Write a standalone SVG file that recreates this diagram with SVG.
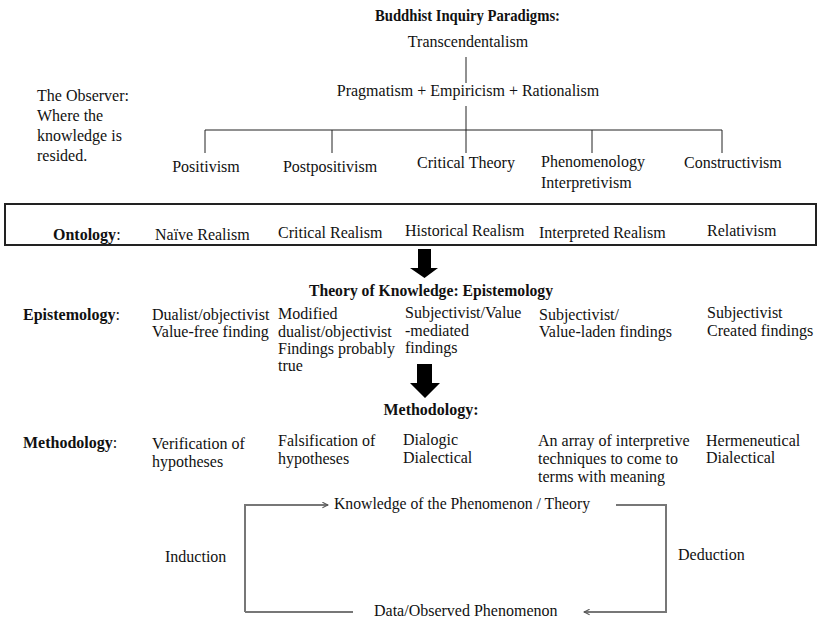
<svg xmlns="http://www.w3.org/2000/svg" width="818" height="619" viewBox="0 0 818 619">
<style>
text{font-family:'Liberation Serif','DejaVu Serif','Noto Serif',Times,serif;font-size:16px;fill:#111}
.b{font-weight:bold}
.m{text-anchor:middle}
.ln{stroke:#222;stroke-width:1;fill:none}
.cy{stroke:#777;stroke-width:2;fill:none}
</style>
<defs>
<marker id="oa" viewBox="0 0 10 10" refX="9" refY="5" markerWidth="7" markerHeight="7" markerUnits="userSpaceOnUse" orient="auto">
<path d="M1,1 L9,5 L1,9" fill="none" stroke="#555" stroke-width="1.5"/>
</marker>
</defs>
<rect width="818" height="619" fill="#fff"/>

<g id="connectors">
<line class="ln" x1="466" y1="57" x2="466" y2="83"/>
<line class="ln" x1="466" y1="106" x2="466" y2="153"/>
<line class="ln" x1="205" y1="130" x2="722" y2="130"/>
<line class="ln" x1="205" y1="130" x2="205" y2="153"/>
<line class="ln" x1="332" y1="130" x2="332" y2="153"/>
<line class="ln" x1="592" y1="130" x2="592" y2="153"/>
<line class="ln" x1="722" y1="130" x2="722" y2="153"/>
<path d="M418,249 H431 V268 H438 L424.5,278 L410,268 H418 Z" fill="#000"/>
<path d="M417,364 H432 V383 H440 L425,398 L410,383 H417 Z" fill="#000"/>
<path class="cy" d="M245,612 V505 H328" marker-end="url(#oa)"/>
<path class="cy" d="M616,505 H666 V612 H584" marker-end="url(#oa)"/>
<line class="cy" x1="245" y1="612" x2="353" y2="612"/>
</g>

<g id="title"><text class="b" x="375" y="21" textLength="185" lengthAdjust="spacingAndGlyphs">Buddhist Inquiry Paradigms:</text></g>
<g id="transcendentalism"><text class="m" x="468" y="47">Transcendentalism</text></g>
<g id="pragmatism"><text class="m" x="468" y="96">Pragmatism + Empiricism + Rationalism</text></g>
<g id="observer">
<text x="37" y="101">The Observer:</text>
<text x="37" y="121">Where the</text>
<text x="37" y="141">knowledge is</text>
<text x="37" y="161">resided.</text>
</g>
<g id="positivism"><text class="m" x="206" y="172">Positivism</text></g>
<g id="postpositivism"><text class="m" x="330" y="172">Postpositivism</text></g>
<g id="critical-theory"><text class="m" x="466" y="168">Critical Theory</text></g>
<g id="phenomenology">
<text x="541" y="167">Phenomenology</text>
<text x="541" y="188">Interpretivism</text>
</g>
<g id="constructivism"><text x="684" y="168">Constructivism</text></g>

<g id="ontology">
<rect x="5" y="204" width="811" height="41" fill="none" stroke="#222" stroke-width="2"/>
<text x="53" y="240"><tspan class="b">Ontology</tspan>:</text>
<text x="155" y="240">Naïve Realism</text>
<text x="278" y="238">Critical Realism</text>
<text x="405" y="236">Historical Realism</text>
<text x="539" y="238">Interpreted Realism</text>
<text x="707" y="236">Relativism</text>
</g>

<g id="epistemology-heading"><text class="b" x="309" y="296" textLength="244" lengthAdjust="spacingAndGlyphs">Theory of Knowledge: Epistemology</text></g>
<g id="epistemology">
<text x="23" y="320"><tspan class="b">Epistemology</tspan>:</text>
<text x="152" y="320">Dualist/objectivist</text>
<text x="152" y="337">Value-free finding</text>
<text x="278" y="319">Modified</text>
<text x="278" y="337">dualist/objectivist</text>
<text x="278" y="354">Findings probably</text>
<text x="278" y="371">true</text>
<text x="405" y="318">Subjectivist/Value</text>
<text x="405" y="336">-mediated</text>
<text x="405" y="353">findings</text>
<text x="539" y="320">Subjectivist/</text>
<text x="539" y="337">Value-laden findings</text>
<text x="707" y="318">Subjectivist</text>
<text x="707" y="336">Created findings</text>
</g>

<g id="methodology-heading"><text class="b m" x="431" y="415">Methodology:</text></g>
<g id="methodology">
<text x="23" y="448"><tspan class="b">Methodology</tspan>:</text>
<text x="152" y="449">Verification of</text>
<text x="152" y="467">hypotheses</text>
<text x="278" y="446">Falsification of</text>
<text x="278" y="464">hypotheses</text>
<text x="403" y="445">Dialogic</text>
<text x="403" y="463">Dialectical</text>
<text x="538" y="446">An array of interpretive</text>
<text x="538" y="464">techniques to come to</text>
<text x="538" y="482">terms with meaning</text>
<text x="706" y="446">Hermeneutical</text>
<text x="706" y="463">Dialectical</text>
</g>

<g id="knowledge"><text x="334" y="509" textLength="256" lengthAdjust="spacingAndGlyphs">Knowledge of the Phenomenon / Theory</text></g>
<g id="data"><text x="374" y="616">Data/Observed Phenomenon</text></g>
<g id="induction"><text x="165" y="562">Induction</text></g>
<g id="deduction"><text x="678" y="560">Deduction</text></g>
</svg>
